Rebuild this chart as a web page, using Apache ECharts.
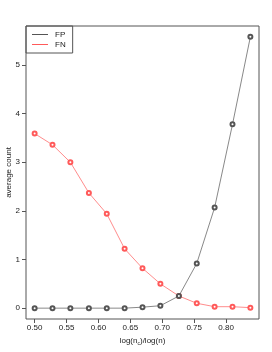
<!DOCTYPE html>
<html><head><meta charset="utf-8">
<script src="https://cdn.jsdelivr.net/npm/echarts@6/dist/echarts.min.js"></script>
<style>html,body{margin:0;padding:0;background:#fff}#c{width:272px;height:352px}</style>
</head><body><div id="c"></div>
<script>
const xValues = [0.500, 0.528, 0.556, 0.585, 0.613, 0.641, 0.669, 0.697, 0.726, 0.754, 0.782, 0.810, 0.838];
const fpValues = [0, 0, 0, 0, 0, 0, 0.02, 0.05, 0.25, 0.92, 2.07, 3.78, 5.58];
const fnValues = [3.59, 3.36, 3.00, 2.37, 1.94, 1.22, 0.82, 0.50, 0.25, 0.10, 0.03, 0.03, 0.01];
const xTicks = [0.50, 0.55, 0.60, 0.65, 0.70, 0.75, 0.80];
const yTicks = [0, 1, 2, 3, 4, 5];

const xr = xValues[xValues.length-1] - xValues[0];
const xmin = xValues[0] - 0.04*xr, xmax = xValues[xValues.length-1] + 0.04*xr;
const ymaxD = Math.max(...fpValues, ...fnValues);
const ymin = -0.04*ymaxD, ymax = ymaxD*1.04;

const font = 'Liberation Sans, Arial, sans-serif';
const chart = echarts.init(document.getElementById('c'), null, {renderer:'canvas'});
chart.setOption({
  animation:false,
  backgroundColor:'#fff',
  grid:{left:26, top:26, right:13, bottom:33, show:true, borderColor:'#555', borderWidth:1, backgroundColor:'transparent',
        containLabel:false, outerBoundsMode:'none'},
  legend:{
    orient:'vertical', left:26, top:26, padding:[4,7,4,6],
    borderColor:'#555', borderWidth:1, itemWidth:16, itemHeight:1, itemGap:1, icon:'rect',
    textStyle:{fontFamily:font, fontSize:8, lineHeight:9, color:'#222', padding:[0,0,0,2]},
    data:[{name:'FP', itemStyle:{color:'#555'}},{name:'FN', itemStyle:{color:'#ff5a5a'}}]
  },
  xAxis:{
    type:'value', min:xmin, max:xmax,
    splitLine:{show:false}, axisLine:{show:false, onZero:false},
    axisTick:{show:true, customValues:xTicks, length:4, lineStyle:{color:'#555'}},
    axisLabel:{customValues:xTicks, fontFamily:font, fontSize:8, color:'#222', margin:5,
      formatter:v=>v.toFixed(2)},
    name:'{a|log(n}{s|c}{a|)/log(n)}', nameLocation:'middle', nameGap:17,
    nameTextStyle:{rich:{a:{fontFamily:font,fontSize:8,color:'#222'}, s:{fontFamily:font,fontSize:5,color:'#222',verticalAlign:'bottom',padding:[5,0,0,0]}}}
  },
  yAxis:{
    type:'value', min:ymin, max:ymax, position:'left',
    splitLine:{show:false}, axisLine:{show:false, onZero:false},
    axisTick:{show:true, inside:false, customValues:yTicks, length:4, lineStyle:{color:'#555'}},
    axisLabel:{show:true, customValues:yTicks, fontFamily:font, fontSize:8, color:'#222', margin:6},
    name:'average count', nameLocation:'middle', nameGap:13, nameMoveOverlap:false,
    nameTextStyle:{fontFamily:font, fontSize:8, color:'#222'}
  },
  series:[
    {name:'FP', type:'line', data:xValues.map((x,i)=>[x,fpValues[i]]), symbol:'emptyCircle', symbolSize:4,
     lineStyle:{color:'#555', width:0.7}, itemStyle:{color:'#555', borderWidth:0.5}, z:3},
    {name:'FN', type:'line', data:xValues.map((x,i)=>[x,fnValues[i]]), symbol:'emptyCircle', symbolSize:4,
     lineStyle:{color:'#ff5a5a', width:0.7}, itemStyle:{color:'#ff5a5a', borderWidth:0.5}, z:2}
  ]
});
</script></body></html>
